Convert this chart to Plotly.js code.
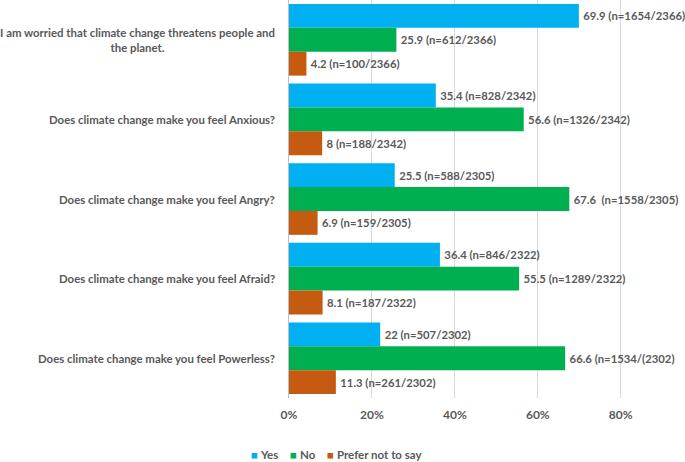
<!DOCTYPE html>
<html><head><meta charset="utf-8">
<script src="https://cdn.plot.ly/plotly-3.0.1.min.js"></script>
<style>html,body{margin:0;padding:0;background:#fff}#chart{width:685px;height:462px}</style>
</head><body><div id="chart"></div>
<script>
const categories = [
  "I am worried that climate change threatens people and<br>the planet.",
  "Does climate change make you feel Anxious?",
  "Does climate change make you feel Angry?",
  "Does climate change make you feel Afraid?",
  "Does climate change make you feel Powerless?"
];
const seriesNames = ["Yes", "No", "Prefer not to say"];
const yesValues = [69.9, 35.4, 25.5, 36.4, 22];
const noValues = [25.9, 56.6, 67.6, 55.5, 66.6];
const preferValues = [4.2, 8, 6.9, 8.1, 11.3];
const yesLabels = ["69.9 (n=1654/2366)", "35.4 (n=828/2342)", "25.5 (n=588/2305)", "36.4 (n=846/2322)", "22 (n=507/2302)"];
const noLabels = ["25.9 (n=612/2366)", "56.6 (n=1326/2342)", "67.6  (n=1558/2305)", "55.5 (n=1289/2322)", "66.6 (n=1534/(2302)"];
const preferLabels = ["4.2 (n=100/2366)", "8 (n=188/2342)", "6.9 (n=159/2305)", "8.1 (n=187/2322)", "11.3 (n=261/2302)"];
const tickVals = [0, 20, 40, 60, 80];
const tickText = ["0%", "20%", "40%", "60%", "80%"];

const colors = ["#00B0F0", "#00B050", "#C55A11"];
const fontFam = "Lato, 'Open Sans', sans-serif";
const txtColor = "#595959";

function mk(name, vals, labels, color) {
  return {
    type: "bar", orientation: "h", name: name,
    y: categories, x: vals,
    text: labels.map(s => "<b>\u2009" + s.replace(/  /g, "\u00a0 ") + "</b>"),
    textposition: "outside", cliponaxis: false, constraintext: "none",
    textfont: {family: fontFam, size: 11.3, color: txtColor},
    marker: {color: color},
    hoverinfo: "skip", showlegend: false
  };
}
const data = [
  mk(seriesNames[0], yesValues, yesLabels, colors[0]),
  mk(seriesNames[1], noValues, noLabels, colors[1]),
  mk(seriesNames[2], preferValues, preferLabels, colors[2])
];
const annotations = categories.map(c => ({
  xref: "paper", yref: "y", x: 0, y: c, xshift: -12,
  xanchor: "right", yanchor: "middle", align: "center",
  text: "<b>" + c + "</b>", showarrow: false,
  font: {family: fontFam, size: 11.4, color: txtColor}
}));
// legend built from the series names and colours
const legendText = seriesNames.map((n, i) =>
  "<span style='color:" + colors[i] + "'>\u25A0</span>\u00a0<b>" + n + "</b>").join("\u00a0\u00a0\u00a0\u00a0");
annotations.push({
  xref: "paper", yref: "paper", x: 0.12, y: -0.143, xanchor: "center", yanchor: "middle",
  text: legendText, showarrow: false,
  font: {family: fontFam, size: 11.5, color: txtColor}
});
const layout = {
  width: 685, height: 462,
  margin: {l: 289, r: 0, t: 0, b: 64, pad: 0},
  paper_bgcolor: "#fff", plot_bgcolor: "#fff",
  barmode: "group", bargap: 0.1, bargroupgap: 0,
  showlegend: false,
  xaxis: {range: [0, 95.5], tickvals: tickVals, ticktext: tickText.map(t => "<b>" + t + "</b>"), showgrid: true, gridcolor: "#D9D9D9",
    zeroline: false, showline: false, ticks: "outside", ticklen: 6, tickcolor: "rgba(0,0,0,0)",
    tickfont: {family: fontFam, size: 12, color: txtColor}},
  yaxis: {type: "category", autorange: "reversed", showticklabels: false, ticks: "",
    showline: true, linecolor: "#BFBFBF", linewidth: 1, showgrid: false, zeroline: false},
  annotations: annotations
};
Plotly.newPlot("chart", data, layout, {displayModeBar: false, staticPlot: true});
</script></body></html>
